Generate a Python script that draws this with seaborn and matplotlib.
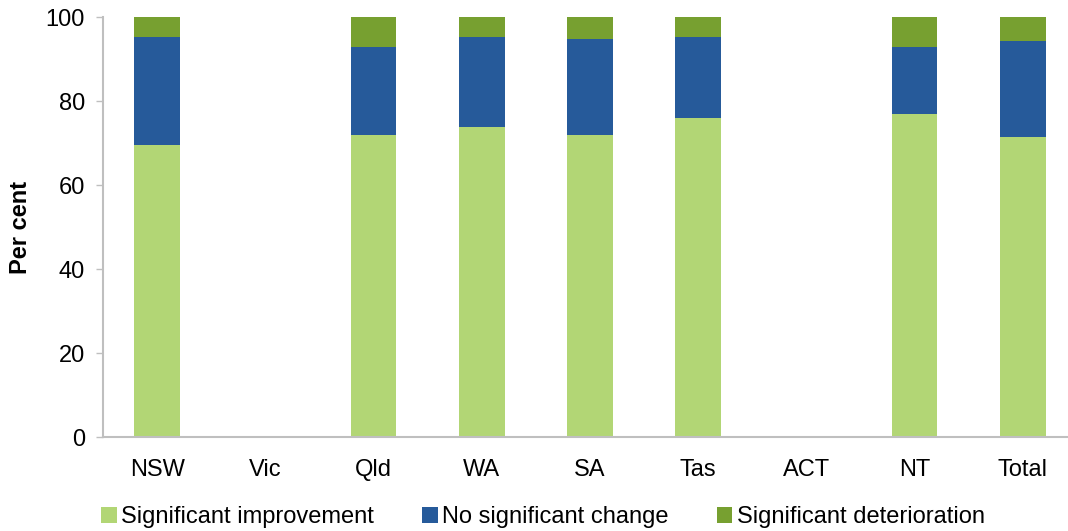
import numpy as np
import pandas as pd
import matplotlib
matplotlib.use("Agg")
import matplotlib.pyplot as plt
import seaborn as sns
from matplotlib.patches import Patch

categories = ["NSW", "Vic", "Qld", "WA", "SA", "Tas", "ACT", "NT", "Total"]
improvement = [69.6, np.nan, 72.0, 73.9, 72.0, 75.9, np.nan, 76.8, 71.5]
no_change = [25.6, np.nan, 20.9, 21.3, 22.8, 19.3, np.nan, 16.1, 22.8]
deterioration = [4.8, np.nan, 7.1, 4.8, 5.2, 4.8, np.nan, 7.1, 5.7]
series_names = ["Significant improvement", "No significant change", "Significant deterioration"]
colors = ["#B2D675", "#265A9A", "#77A030"]

sns.set_style("white")
plt.rcParams["font.family"] = ["Liberation Sans", "DejaVu Sans"]
plt.rcParams["text.color"] = "black"
plt.rcParams["axes.labelcolor"] = "black"
plt.rcParams["xtick.labelcolor"] = "black"
plt.rcParams["ytick.labelcolor"] = "black"

imp = np.array(improvement)
nc = np.array(no_change)
det = np.array(deterioration)
df = pd.DataFrame({
    "cat": categories,
    "top": imp + nc + det,
    "mid": imp + nc,
    "low": imp,
})

fig = plt.figure(figsize=(10.68, 5.31), dpi=100)
ax = fig.add_axes([103/1068, (531-437)/531, 974/1068, 420/531])

for col, c in zip(["top", "mid", "low"], [colors[2], colors[1], colors[0]]):
    sns.barplot(data=df, x="cat", y=col, color=c, width=0.42, ax=ax,
                saturation=1, order=categories, linewidth=0)

ax.set_ylim(0, 100)
ax.set_xlim(-0.5, 8.5)
ax.set_yticks([0, 20, 40, 60, 80, 100])
ax.set_xlabel("")
ax.set_ylabel("Per cent", fontsize=17, fontweight="bold", labelpad=10, color="black")
ax.tick_params(axis="y", labelsize=17, length=5, width=1, color="#BFBFBF", direction="out", pad=8, left=True)
ax.tick_params(axis="x", labelsize=17, length=0, pad=16)
for s in ["top", "right"]:
    ax.spines[s].set_visible(False)
for s in ["left", "bottom"]:
    ax.spines[s].set_color("#BFBFBF")
    ax.spines[s].set_linewidth(1.5)

handles = [Patch(facecolor=c, edgecolor="none") for c in colors]
fig.legend(handles, series_names, loc="center", bbox_to_anchor=(543/1068, 1-517/531),
           ncol=3, frameon=False, fontsize=17, handlelength=0.65, handleheight=0.65,
           handletextpad=0.2, columnspacing=2.03)

fig.savefig("out.png", dpi=100)
